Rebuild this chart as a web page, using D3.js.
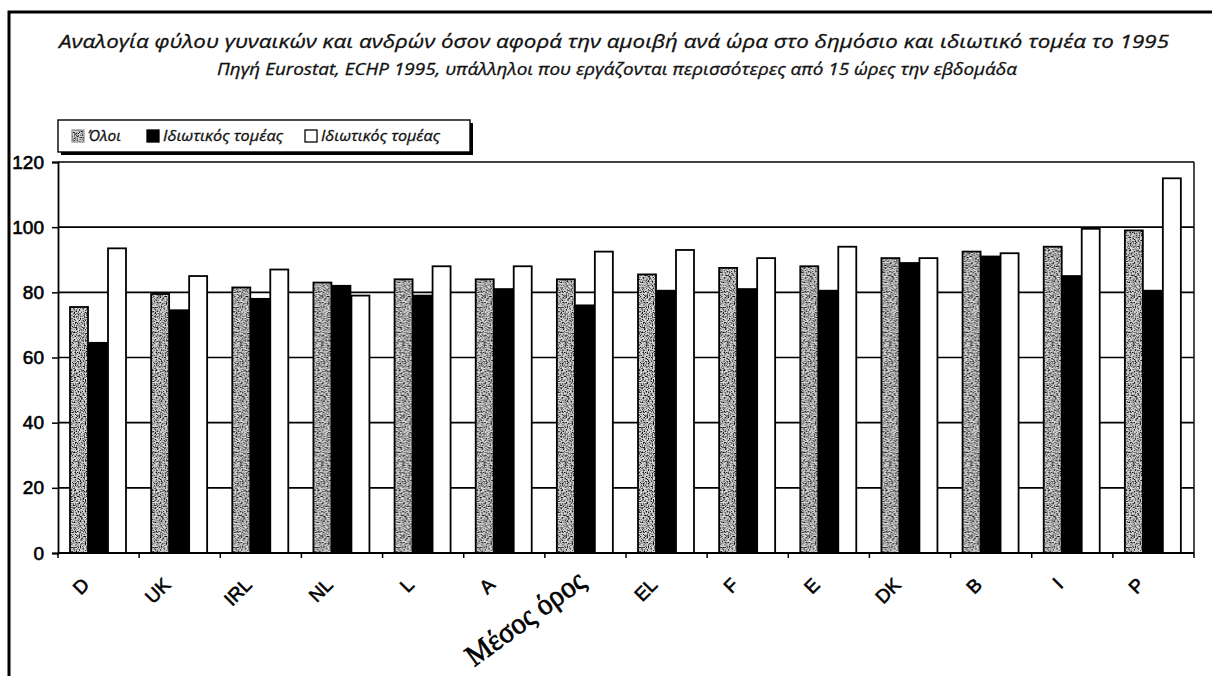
<!DOCTYPE html>
<html>
<head>
<meta charset="utf-8">
<title>Αναλογία φύλου - αμοιβή ανά ώρα 1995</title>
<script src="https://d3js.org/d3.v7.min.js"></script>
<style>
  body { margin: 0; background: #fff; }
  svg { display: block; }
  .ttl { font-family: "Open Sans", sans-serif; font-style: italic; fill: #111; stroke: #111; stroke-width: 0.3px; }
  .tick-lbl { font-family: "Liberation Sans", Arial, sans-serif; font-size: 19px; fill: #000; stroke: #000; stroke-width: 0.6px; }
</style>
</head>
<body>
<svg id="chart" width="1212" height="676"></svg>
<script>
// categories along the x axis
const countries = ["D", "UK", "IRL", "NL", "L", "A", "Μέσος όρος", "EL", "F", "E", "DK", "B", "I", "P"];
// series names as printed in the legend
const seriesNames = ["Όλοι", "Ιδιωτικός τομέας", "Ιδιωτικός τομέας"];
// values
const allWorkers = [75.5, 79.5, 81.5, 83, 84, 84, 84, 85.5, 87.5, 88, 90.5, 92.5, 94, 99];
const privateSector = [64.5, 74.5, 78, 82, 79, 81, 76, 80.5, 81, 80.5, 89, 91, 85, 80.5];
const publicSector = [93.5, 85, 87, 79, 88, 88, 92.5, 93, 90.5, 94, 90.5, 92, 99.5, 115];
const yTicks = [0, 20, 40, 60, 80, 100, 120];

const svg = d3.select("#chart");
const plotL = 58, plotR = 1194, plotT = 162, plotB = 553;

// speckled fill for the "all" bars
const defs = svg.append("defs");
const filt = defs.append("filter").attr("id", "noise").attr("x", 0).attr("y", 0).attr("width", "100%").attr("height", "100%");
filt.append("feTurbulence").attr("type", "fractalNoise").attr("baseFrequency", 0.8).attr("numOctaves", 2).attr("seed", 4);
filt.append("feColorMatrix").attr("type", "matrix")
  .attr("values", "0 0 0 0 0  0 0 0 0 0  0 0 0 0 0  0 0 0 -3.3 1.85");
defs.append("pattern").attr("id", "speck").attr("patternUnits", "userSpaceOnUse")
  .attr("width", 120).attr("height", 120)
  .call(p => {
    p.append("rect").attr("width", 120).attr("height", 120).attr("fill", "#d6d6d6");
    p.append("rect").attr("width", 120).attr("height", 120).attr("fill", "#222").attr("filter", "url(#noise)");
  });

const fills = ["url(#speck)", "#000", "#fff"];

const x = d3.scaleBand().domain(countries).range([plotL, plotR]);
const inner = d3.scaleBand().domain([0, 1, 2]).range([12, 69]);
const y = d3.scaleLinear().domain([0, 120]).range([plotB, plotT]);

// outer frame of the scanned page
svg.append("path").attr("d", "M9,676 V12 H1212").attr("fill", "none").attr("stroke", "#000").attr("stroke-width", 3);

// titles
svg.append("text").attr("class", "ttl").attr("x", 614).attr("y", 48).attr("text-anchor", "middle")
  .attr("font-size", 19).attr("textLength", 1110).attr("lengthAdjust", "spacingAndGlyphs")
  .text("Αναλογία φύλου γυναικών και ανδρών όσον αφορά την αμοιβή ανά ώρα στο δημόσιο και ιδιωτικό τομέα το 1995");
svg.append("text").attr("class", "ttl").attr("x", 617).attr("y", 75).attr("text-anchor", "middle")
  .attr("font-size", 16).attr("textLength", 800).attr("lengthAdjust", "spacingAndGlyphs")
  .text("Πηγή Eurostat, ECHP 1995, υπάλληλοι που εργάζονται περισσότερες από 15 ώρες την εβδομάδα");

// horizontal gridlines
svg.append("g").selectAll("line").data(yTicks.slice(1)).join("line")
  .attr("x1", plotL).attr("x2", plotR).attr("y1", d => y(d)).attr("y2", d => y(d))
  .attr("stroke", "#000").attr("stroke-width", 1.6);
// right border of plot
svg.append("line").attr("x1", plotR).attr("x2", plotR).attr("y1", plotT).attr("y2", plotB)
  .attr("stroke", "#000").attr("stroke-width", 1.4);

// bars
const rows = countries.map((c, i) => ({ c, v: [allWorkers[i], privateSector[i], publicSector[i]] }));
const groups = svg.append("g").selectAll("g").data(rows).join("g")
  .attr("transform", d => `translate(${x(d.c)},0)`);
groups.selectAll("rect").data(d => d.v.map((v, k) => ({ v, k }))).join("rect")
  .attr("x", d => inner(d.k))
  .attr("width", inner.bandwidth() - 1)
  .attr("y", d => y(d.v))
  .attr("height", d => y(0) - y(d.v))
  .attr("fill", d => fills[d.k])
  .attr("stroke", "#000").attr("stroke-width", 1.8);

// y axis
const yAxis = svg.append("g").attr("transform", `translate(${plotL},0)`)
  .call(d3.axisLeft(y).tickValues(yTicks).tickSize(6).tickPadding(8));
yAxis.select(".domain").attr("stroke-width", 1.8);
yAxis.selectAll(".tick line").attr("stroke-width", 1.5);
yAxis.selectAll("text").attr("class", "tick-lbl").attr("x", -14);

// x axis line and tick marks between categories
const xAxis = svg.append("g").attr("transform", `translate(0,${plotB})`);
xAxis.append("line").attr("x1", plotL).attr("x2", plotR).attr("stroke", "#000").attr("stroke-width", 2);
xAxis.selectAll("line.tk").data(countries.concat(["end"])).join("line").attr("class", "tk")
  .attr("x1", (d, i) => plotL + i * x.step()).attr("x2", (d, i) => plotL + i * x.step())
  .attr("y1", 0).attr("y2", 5).attr("stroke", "#000").attr("stroke-width", 1.5);

// rotated category labels
const avgLabel = "Μέσος όρος";
svg.append("g").selectAll("text").data(countries).join("text")
  .attr("transform", d => d === avgLabel
    ? `translate(${x(d) + x.bandwidth() / 2 + 2},${plotB + 32}) rotate(-36)`
    : `translate(${x(d) + x.bandwidth() / 2 - 8},${plotB + 33}) rotate(-45)`)
  .attr("text-anchor", "end")
  .attr("class", d => d === avgLabel ? null : "tick-lbl")
  .attr("font-family", d => d === avgLabel ? "'Liberation Serif', 'Times New Roman', serif" : null)
  .attr("font-size", d => d === avgLabel ? 30 : 20)
  .attr("stroke", d => d === avgLabel ? "#000" : null)
  .attr("stroke-width", d => d === avgLabel ? 0.7 : null)
  .attr("textLength", d => d === avgLabel ? 140 : null)
  .attr("lengthAdjust", "spacingAndGlyphs")
  .text(d => d);

// legend
const lg = svg.append("g").attr("transform", "translate(58,120)");
lg.append("rect").attr("x", 3).attr("y", 3).attr("width", 412).attr("height", 32).attr("fill", "#000");
lg.append("rect").attr("width", 412).attr("height", 32).attr("fill", "#fff").attr("stroke", "#000").attr("stroke-width", 1.4);
const legX = [14, 89, 247];
const legTextLen = [33, 120, 119];
const items = lg.selectAll("g").data(seriesNames).join("g")
  .attr("transform", (d, i) => `translate(${legX[i]},0)`);
items.append("rect").attr("x", 0).attr("y", 10).attr("width", 12).attr("height", 12)
  .attr("fill", (d, i) => fills[i]).attr("stroke", (d, i) => i === 0 ? "#999" : "#000").attr("stroke-width", 1.3);
items.append("text").attr("class", "ttl").attr("x", 16).attr("y", 21)
  .attr("font-size", 14).attr("textLength", (d, i) => legTextLen[i]).attr("lengthAdjust", "spacingAndGlyphs")
  .text(d => d);
</script>
</body>
</html>
